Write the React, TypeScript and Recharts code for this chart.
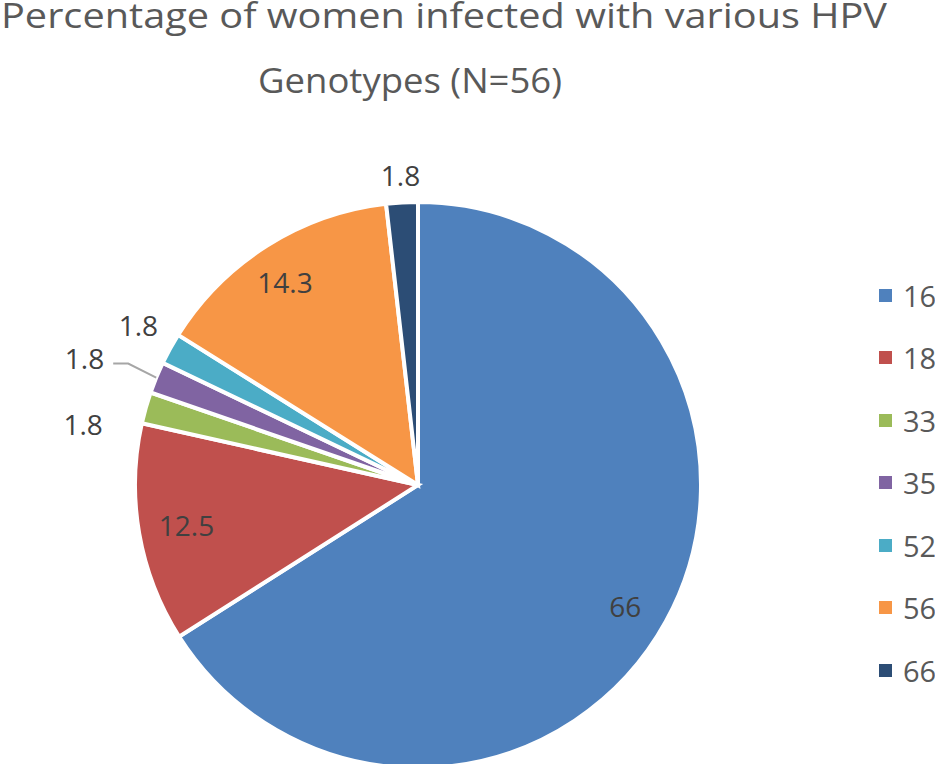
import React from 'react';
import { PieChart, Pie, Cell, Legend } from 'recharts';

const genotypes = ['16', '18', '33', '35', '52', '56', '66'];
const percentages = [66, 12.5, 1.8, 1.8, 1.8, 14.3, 1.8];
const sliceColors = ['#4F81BD', '#C0504D', '#9BBB59', '#8064A2', '#4BACC6', '#F79646', '#2C4D75'];

const data = genotypes.map((g, i) => ({ name: g, value: percentages[i] }));

const RAD = Math.PI / 180;
const font = "'Open Sans', sans-serif";

// label placement per slice: radius along the mid angle, then a nudge
const labelPlace: any[] = [
  { r: 240, anchor: 'middle', dx: -3, dy: 5 },
  { r: 235, anchor: 'middle', dx: 0, dy: 0 },
  { r: 310, anchor: 'end', dx: -17, dy: 24 },
  { r: 283, anchor: 'end', dx: -52, dy: -20, leader: true },
  { r: 300, anchor: 'end', dx: 3, dy: -15 },
  { r: 242, anchor: 'middle', dx: -4, dy: 2 },
  { r: 310, anchor: 'middle', dx: 0, dy: 0 },
];

const renderLabel = (props: any) => {
  const { cx, cy, midAngle, index, value } = props;
  const p = labelPlace[index];
  const ex = cx + p.r * Math.cos(-midAngle * RAD);
  const ey = cy + p.r * Math.sin(-midAngle * RAD);
  const x = ex + p.dx;
  const y = ey + p.dy;
  return (
    <g key={'lbl' + index}>
      {p.leader && (
        <polyline
          points={`${ex},${ey} ${x + 24},${y + 6} ${x + 9},${y + 6}`}
          fill="none"
          stroke="#A6A6A6"
          strokeWidth={2}
        />
      )}
      <text x={x} y={y} textAnchor={p.anchor} dominantBaseline="central"
        fill="#404040" fontSize={28} fontFamily={font}>
        {value}
      </text>
    </g>
  );
};

const renderLegend = (props: any) => {
  const { payload } = props;
  return (
    <div>
      {payload.map((entry: any, i: number) => (
        <div key={i} style={{ display: 'flex', alignItems: 'center', height: 62.5 }}>
          <span style={{ width: 13, height: 13, background: entry.color, marginRight: 11, display: 'inline-block' }} />
          <span style={{ fontFamily: font, fontSize: 29, color: '#595959', lineHeight: 1 }}>{entry.value}</span>
        </div>
      ))}
    </div>
  );
};

const App = () => {
  return (
    <div style={{ position: 'absolute', left: 0, top: 0, width: 935, height: 764, background: '#fff', overflow: 'hidden' }}>
      <svg width={935} height={120} style={{ position: 'absolute', left: 0, top: 0 }}>
        <text x={1} y={28} fill="#595959" fontSize={35} fontFamily={font}
          textLength={886} lengthAdjust="spacingAndGlyphs">
          Percentage of women infected with various HPV
        </text>
        <text x={258} y={93} fill="#595959" fontSize={35} fontFamily={font}
          textLength={304} lengthAdjust="spacingAndGlyphs">
          Genotypes (N=56)
        </text>
      </svg>
      <PieChart width={935} height={764} margin={{ top: 0, right: 0, bottom: 0, left: 0 }}>
        <Pie
          data={data}
          dataKey="value"
          nameKey="name"
          cx={418}
          cy={485}
          outerRadius={283}
          startAngle={90}
          endAngle={-270}
          stroke="#fff"
          strokeWidth={4}
          label={renderLabel}
          labelLine={false}
          isAnimationActive={false}
        >
          {data.map((d, i) => (
            <Cell key={d.name} fill={sliceColors[i]} />
          ))}
        </Pie>
        <Legend
          layout="vertical"
          align="right"
          verticalAlign="top"
          content={renderLegend}
          wrapperStyle={{ position: 'absolute', left: 879, top: 264, width: 60 }}
        />
      </PieChart>
    </div>
  );
};

export default App;
